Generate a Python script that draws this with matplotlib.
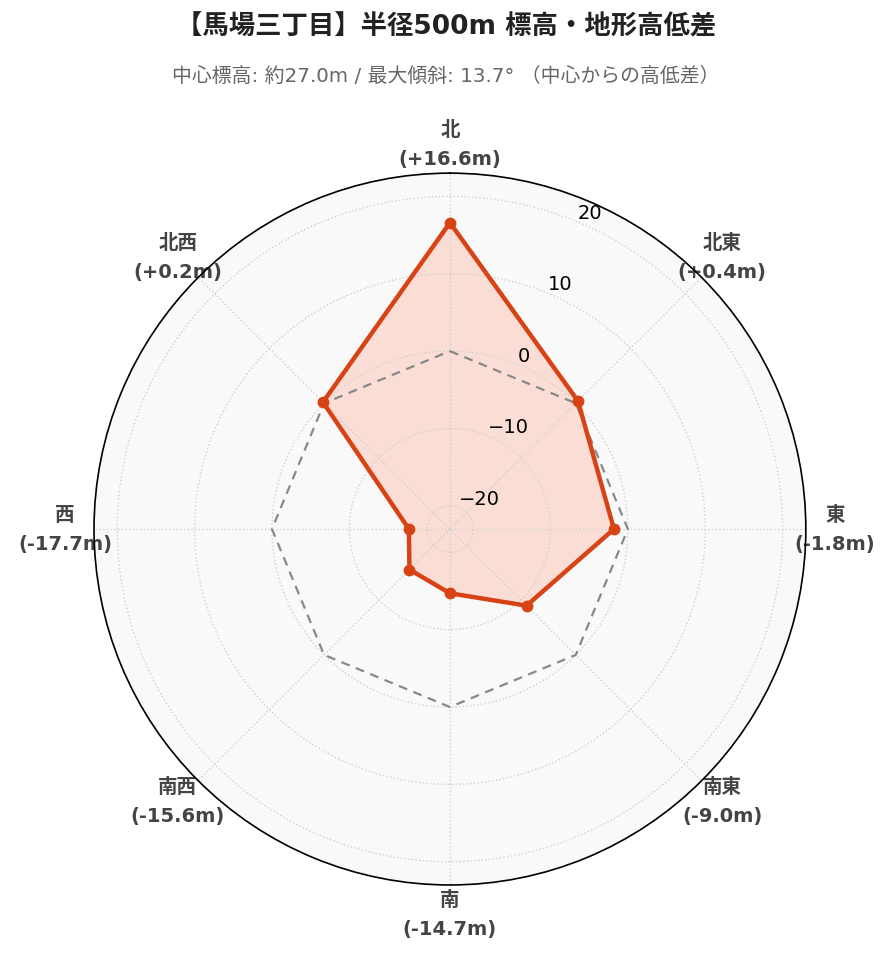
import numpy as np
import matplotlib
matplotlib.use("Agg")
import matplotlib.pyplot as plt

plt.rcParams['font.family'] = ['DejaVu Sans', 'Noto Sans CJK JP']

# data
directions = ['北', '北東', '東', '南東', '南', '南西', '西', '北西']
diffs = [16.6, 0.4, -1.8, -9.0, -14.7, -15.6, -17.7, 0.2]
ref_level = [0, 0, 0, 0, 0, 0, 0, 0]
r_ticks = [-20, -10, 0, 10, 20]
r_lim = 23.0

title = '【馬場三丁目】半径500m 標高・地形高低差'
subtitle = '中心標高: 約27.0m / 最大傾斜: 13.7° （中心からの高低差）'

line_col = '#d84315'

angles = np.deg2rad(np.arange(len(directions)) * 45.0)
ang_closed = np.append(angles, angles[0])
vals_closed = np.append(diffs, diffs[0])
ref_closed = np.append(ref_level, ref_level[0])

fig = plt.figure(figsize=(8.92, 9.62), dpi=100)
ax = fig.add_axes([0.1054, 0.079, 0.798, 0.740], projection='polar')
ax.set_theta_zero_location('N')
ax.set_theta_direction(-1)
ax.set_ylim(-r_lim, r_lim)
ax.set_facecolor('#f9f9f9')

# grid
ax.set_xticks(angles)
ax.set_xticklabels([])
ax.set_yticks(r_ticks)
ax.set_yticklabels([str(t).replace('-', '\u2212') for t in r_ticks], fontsize=14)
ax.set_rlabel_position(22.5)
ax.grid(True, color='#d0d0d0', linestyle=':', linewidth=1.0)
ax.spines['polar'].set_color('black')
ax.spines['polar'].set_linewidth(1.2)
ax.spines['polar'].set_zorder(5)

# reference (0m) polygon
ax.plot(ang_closed, ref_closed, color='#888888', linestyle='--', linewidth=1.6,
        dashes=(4, 3), zorder=2)

# terrain difference
ax.fill(ang_closed, vals_closed, color='#ff5a2e', alpha=0.17, zorder=1)
ax.plot(ang_closed, vals_closed, color=line_col, linewidth=3.2, zorder=3)
ax.plot(angles, diffs, 'o', color=line_col, markersize=7.5, zorder=4)

# direction labels
lab_r = 385 / 712
for a, name, d in zip(angles, directions, diffs):
    x = 0.5 + lab_r * np.sin(a)
    y = 0.5 + lab_r * np.cos(a)
    ax.text(x, y, '{}\n({:+.1f}m)'.format(name, d), transform=ax.transAxes,
            ha='center', va='center', fontsize=14, fontweight='bold',
            color='#444444', linespacing=1.65, zorder=1)

fig.text(0.5, 0.971, title, ha='center', va='center', fontsize=19,
         fontweight='bold', color='#222222')
fig.text(0.5, 0.921, subtitle, ha='center', va='center', fontsize=14.3,
         color='#666666')

fig.savefig('out.png', dpi=100)
